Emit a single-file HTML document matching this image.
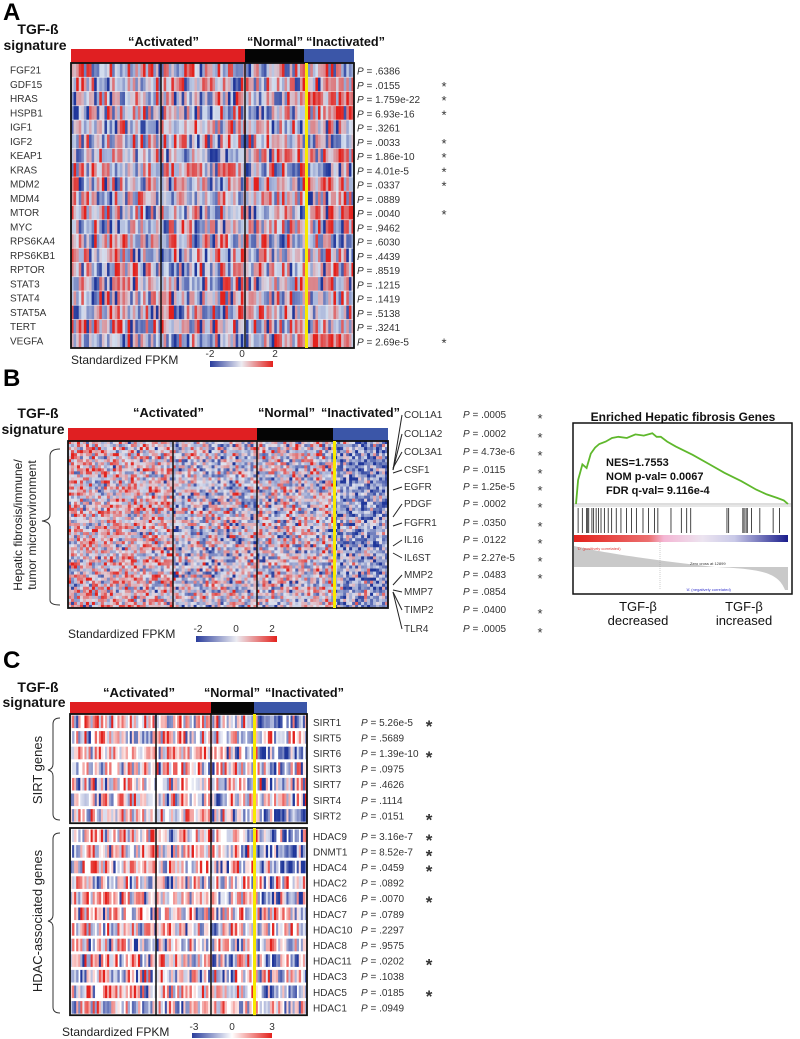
<!DOCTYPE html>
<html><head><meta charset="utf-8">
<style>
html,body{margin:0;padding:0;background:#fff;}
svg{display:block;font-family:"Liberation Sans",Arial,sans-serif;}
.lbl{font-size:10px;fill:#333;}
.pv{font-size:10px;fill:#333;}
.hd{font-size:14px;font-weight:bold;fill:#111;}
.grp{font-size:13px;font-weight:bold;fill:#111;}
.pan{font-size:24px;font-weight:bold;fill:#000;}
</style></head>
<body>
<svg id="fig" width="800" height="1039" viewBox="0 0 800 1039" xmlns="http://www.w3.org/2000/svg">
<defs>
<linearGradient id="cbar" x1="0" x2="1" y1="0" y2="0">
<stop offset="0" stop-color="#2a3d9c"/><stop offset="0.5" stop-color="#ececf2"/><stop offset="1" stop-color="#e3211c"/></linearGradient>
<linearGradient id="cbarc" x1="0" x2="1" y1="0" y2="0">
<stop offset="0" stop-color="#2a3d9c"/><stop offset="0.5" stop-color="#ffffff"/><stop offset="1" stop-color="#e3211c"/></linearGradient>
<linearGradient id="rankbar" x1="0" x2="1" y1="0" y2="0">
<stop offset="0" stop-color="#e3211c"/><stop offset="0.35" stop-color="#ec7070"/><stop offset="0.42" stop-color="#f4b6d4"/><stop offset="0.6" stop-color="#ece4f0"/><stop offset="0.75" stop-color="#c9c9e8"/><stop offset="1" stop-color="#1a1d8c"/></linearGradient>
</defs>

<!-- Panel A -->
<text class="pan" x="3" y="20">A</text>
<text class="hd" x="38" y="34" text-anchor="middle">TGF-ß</text>
<text class="hd" x="35" y="50" text-anchor="middle">signature</text>
<text class="grp" x="128" y="46" textLength="71" lengthAdjust="spacingAndGlyphs">“Activated”</text>
<text class="grp" x="247" y="46" textLength="56" lengthAdjust="spacingAndGlyphs">“Normal”</text>
<text class="grp" x="306" y="46" textLength="79" lengthAdjust="spacingAndGlyphs">“Inactivated”</text>
<g id="A"></g>
<text x="71" y="364" style="font-size:12px;fill:#222">Standardized FPKM</text>
<rect x="210" y="361" width="63" height="6" fill="url(#cbar)"/>
<text x="210" y="357" class="lbl" text-anchor="middle">-2</text>
<text x="242" y="357" class="lbl" text-anchor="middle">0</text>
<text x="275" y="357" class="lbl" text-anchor="middle">2</text>

<!-- Panel B -->
<text class="pan" x="3" y="386">B</text>
<text class="hd" x="38" y="418" text-anchor="middle">TGF-ß</text>
<text class="hd" x="33" y="434" text-anchor="middle">signature</text>
<text class="grp" x="133" y="417" textLength="71" lengthAdjust="spacingAndGlyphs">“Activated”</text>
<text class="grp" x="258" y="417" textLength="57" lengthAdjust="spacingAndGlyphs">“Normal”</text>
<text class="grp" x="321" y="417" textLength="79" lengthAdjust="spacingAndGlyphs">“Inactivated”</text>
<path d="M60 449 Q50 449 50 456 L50 515 Q50 520 42 521 Q50 522 50 527 L50 600 Q50 605 60 605" fill="none" stroke="#333" stroke-width="1"/>
<text transform="translate(22,525) rotate(-90)" text-anchor="middle" style="font-size:12px;fill:#222"><tspan x="0" dy="0">Hepatic fibrosis/immune/</tspan><tspan x="0" dy="14">tumor microenvironment</tspan></text>
<g id="B"></g>
<text x="68" y="638" style="font-size:12px;fill:#222">Standardized FPKM</text>
<rect x="196" y="636" width="81" height="6" fill="url(#cbar)"/>
<text x="198" y="632" class="lbl" text-anchor="middle">-2</text>
<text x="236" y="632" class="lbl" text-anchor="middle">0</text>
<text x="272" y="632" class="lbl" text-anchor="middle">2</text>

<!-- GSEA -->
<text x="683" y="421" text-anchor="middle" style="font-size:12px;font-weight:bold;fill:#111">Enriched Hepatic fibrosis Genes</text>
<rect x="573" y="423" width="219" height="171" fill="#fff" stroke="#111" stroke-width="1.5"/>
<g id="G"></g>
<text x="606" y="466" style="font-size:11px;font-weight:bold;fill:#111">NES=1.7553</text>
<text x="606" y="480" style="font-size:11px;font-weight:bold;fill:#111">NOM p-val= 0.0067</text>
<text x="606" y="494" style="font-size:11px;font-weight:bold;fill:#111">FDR q-val= 9.116e-4</text>
<text x="638" y="611" text-anchor="middle" style="font-size:13px;fill:#111">TGF-β</text>
<text x="638" y="625" text-anchor="middle" style="font-size:13px;fill:#111">decreased</text>
<text x="744" y="611" text-anchor="middle" style="font-size:13px;fill:#111">TGF-β</text>
<text x="744" y="625" text-anchor="middle" style="font-size:13px;fill:#111">increased</text>

<!-- Panel C -->
<text class="pan" x="3" y="668">C</text>
<text class="hd" x="38" y="692" text-anchor="middle">TGF-ß</text>
<text class="hd" x="34" y="707" text-anchor="middle">signature</text>
<text class="grp" x="103" y="697" textLength="72" lengthAdjust="spacingAndGlyphs">“Activated”</text>
<text class="grp" x="204" y="697" textLength="56" lengthAdjust="spacingAndGlyphs">“Normal”</text>
<text class="grp" x="265" y="697" textLength="79" lengthAdjust="spacingAndGlyphs">“Inactivated”</text>
<path d="M60 718 Q53 718 53 724 L53 764 Q53 769 48 770 Q53 771 53 776 L53 814 Q53 820 60 820" fill="none" stroke="#333"/>
<text transform="translate(42,770) rotate(-90)" text-anchor="middle" style="font-size:13px;fill:#222">SIRT genes</text>
<path d="M60 833 Q53 833 53 839 L53 915 Q53 920 48 921 Q53 922 53 927 L53 1007 Q53 1013 60 1013" fill="none" stroke="#333"/>
<text transform="translate(42,921) rotate(-90)" text-anchor="middle" style="font-size:13px;fill:#222">HDAC-associated genes</text>
<g id="C"></g>
<text x="62" y="1036" style="font-size:12px;fill:#222">Standardized FPKM</text>
<rect x="192" y="1033" width="80" height="5" fill="url(#cbarc)"/>
<text x="194" y="1030" class="lbl" text-anchor="middle">-3</text>
<text x="232" y="1030" class="lbl" text-anchor="middle">0</text>
<text x="272" y="1030" class="lbl" text-anchor="middle">3</text>
</svg>

<script>
// ---- data ----
const genesA = ["FGF21","GDF15","HRAS","HSPB1","IGF1","IGF2","KEAP1","KRAS","MDM2","MDM4","MTOR","MYC","RPS6KA4","RPS6KB1","RPTOR","STAT3","STAT4","STAT5A","TERT","VEGFA"];
const pvalsA = [".6386",".0155","1.759e-22","6.93e-16",".3261",".0033","1.86e-10","4.01e-5",".0337",".0889",".0040",".9462",".6030",".4439",".8519",".1215",".1419",".5138",".3241","2.69e-5"];
const sigA = [0,1,1,1,0,1,1,1,1,0,1,0,0,0,0,0,0,0,0,1];
const biasA = [0,0.3,0.9,0.8,0,-0.3,0.4,-0.5,0.3,0,0.4,0,0,0,0,0,0,0,0,0.5];
const genesB = ["COL1A1","COL1A2","COL3A1","CSF1","EGFR","PDGF","FGFR1","IL16","IL6ST","MMP2","MMP7","TIMP2","TLR4"];
const pvalsB = [".0005",".0002","4.73e-6",".0115","1.25e-5",".0002",".0350",".0122","2.27e-5",".0483",".0854",".0400",".0005"];
const sigB = [1,1,1,1,1,1,1,1,1,1,0,1,1];
const genesC = ["SIRT1","SIRT5","SIRT6","SIRT3","SIRT7","SIRT4","SIRT2","HDAC9","DNMT1","HDAC4","HDAC2","HDAC6","HDAC7","HDAC10","HDAC8","HDAC11","HDAC3","HDAC5","HDAC1"];
const pvalsC = ["5.26e-5",".5689","1.39e-10",".0975",".4626",".1114",".0151","3.16e-7","8.52e-7",".0459",".0892",".0070",".0789",".2297",".9575",".0202",".1038",".0185",".0949"];
const sigC = [1,0,1,0,0,0,1,1,1,1,0,1,0,0,0,1,0,1,0];
const esX = [0,0.01,0.03,0.05,0.07,0.09,0.11,0.14,0.17,0.2,0.24,0.28,0.32,0.36,0.38,0.4,0.43,0.47,0.55,0.63,0.7,0.78,0.85,0.9,0.95,0.98,1];
const esY = [0,0.2,0.33,0.3,0.42,0.47,0.5,0.52,0.55,0.56,0.55,0.58,0.57,0.59,0.56,0.56,0.52,0.48,0.41,0.33,0.26,0.19,0.12,0.08,0.05,0.03,0];
const hits = [0.01,0.03,0.05,0.055,0.06,0.075,0.083,0.095,0.106,0.118,0.134,0.152,0.168,0.19,0.212,0.238,0.262,0.285,0.316,0.342,0.37,0.386,0.448,0.497,0.522,0.541,0.712,0.72,0.787,0.793,0.802,0.808,0.828,0.867,0.93,0.96];

// ---- helpers ----
const NS="http://www.w3.org/2000/svg";
let seed=12345;
function rnd(){seed|=0;seed=seed+0x6D2B79F5|0;let t=Math.imul(seed^seed>>>15,1|seed);t=t+Math.imul(t^t>>>7,61|t)^t;return((t^t>>>14)>>>0)/4294967296;}
function gauss(){return (rnd()+rnd()+rnd()-1.5)*1.6;}
function mix(a,b,t){return a.map((v,i)=>Math.round(v+(b[i]-v)*t));}
function color(v,neutral){
  let t=Math.max(-1,Math.min(1,v/2));
  const blue=[31,54,154],red=[227,33,28];
  const c=t<0?mix(neutral,blue,-t):mix(neutral,red,t);
  return "rgb("+c.join(",")+")";
}
function mk(tag,attrs,parent){const e=document.createElementNS(NS,tag);for(const k in attrs)e.setAttribute(k,attrs[k]);parent.appendChild(e);return e;}

function heatmap(g,x0,y0,w,h,nrows,ncols,opts){
  const cw=w/ncols,rh=h/nrows;
  const amp=opts.amp||1;
  const frag=document.createDocumentFragment();
  for(let r=0;r<nrows;r++){
    for(let c=0;c<ncols;c++){
      const xf=(c+0.5)/ncols;
      let v=gauss()*amp+opts.bias(r,xf);
      if(opts.sparse && Math.abs(v)<opts.sparse) continue;
      const el=document.createElementNS(NS,"rect");
      el.setAttribute("x",(x0+c*cw).toFixed(2));
      el.setAttribute("y",(y0+r*rh+(opts.gap||0)).toFixed(2));
      el.setAttribute("width",(cw+0.3).toFixed(2));
      el.setAttribute("height",(rh-2*(opts.gap||0)+(opts.gap?0:0.3)).toFixed(2));
      el.setAttribute("fill",color(v,opts.neutral));
      
      
      frag.appendChild(el);
    }
  }
  g.appendChild(frag);
}
function frame(g,x0,y0,w,h,lines,yellow,name){
  const f=mk("rect",{x:x0,y:y0,width:w,height:h,fill:"none",stroke:"#111","stroke-width":1.8},g);
  
  
  lines.forEach(lx=>{
    const l=mk("line",{x1:lx,x2:lx,y1:y0,y2:y0+h,stroke:"#111","stroke-width":1.5},g);
    
    
  });
  const yl=mk("rect",{x:yellow,y:y0,width:3,height:h,fill:"#f7ea00"},g);
  
  
}
function groupBar(g,y,h,x0,x1,x2,x3,name){
  const a=mk("rect",{x:x0,y:y,width:x1-x0,height:h,fill:"#e01f22"},g);
  
  
  const b=mk("rect",{x:x1,y:y,width:x2-x1,height:h,fill:"#050505"},g);
  
  
  const c=mk("rect",{x:x2,y:y,width:x3-x2,height:h,fill:"#3b56a8"},g);
  
  
}
function text(g,x,y,str,cls,name,anchor){
  const t=mk("text",{x:x,y:y,class:cls},g);
  if(anchor)t.setAttribute("text-anchor",anchor);
  t.textContent=str;
  
  
  return t;
}
function pText(g,x,y,val,name){
  const t=mk("text",{x:x,y:y,class:"pv"},g);
  const i=document.createElementNS(NS,"tspan");i.setAttribute("font-style","italic");i.textContent="P";t.appendChild(i);
  t.appendChild(document.createTextNode(" = "+val));
  
  
}

// ---- Panel A ----
(function(){
  const g=document.getElementById("A");
  const x0=71,x1=245,x2=304,x3=354,y0=63,h=285;
  groupBar(g,49,14,x0,x1,x2,x3,"panel-a");
  heatmap(g,x0,y0,x3-x0,h,genesA.length,110,{neutral:[212,222,238],amp:1.45,bias:(r,xf)=>xf>0.83?biasA[r]*1.6:(xf<0.62?-biasA[r]*0.2:0)});
  for(let r=1;r<genesA.length;r++){
    const l=mk("line",{x1:x0,x2:x3,y1:y0+r*h/genesA.length,y2:y0+r*h/genesA.length,stroke:"#fff","stroke-width":0.8,opacity:0.7},g);
    
    
  }
  frame(g,x0,y0,x3-x0,h,[161,245],305,"heatmap-a");
  genesA.forEach((gn,i)=>{
    const y=y0+(i+0.5)*h/genesA.length+3.5;
    text(g,10,y,gn,"lbl","gene-label-"+gn.toLowerCase());
    pText(g,357,y+1,pvalsA[i],"p-value-"+gn.toLowerCase());
    if(sigA[i]) text(g,444,y+3,"*","pv","significance-star-"+gn.toLowerCase(),"middle").setAttribute("style","font-size:13px");
  });
})();

// ---- Panel B ----
(function(){
  const g=document.getElementById("B");
  const x0=68,x1=257,x2=333,x3=388,y0=441,h=167;
  groupBar(g,428,13,x0,x1,x2,x3,"panel-b");
  heatmap(g,x0,y0,x3-x0,h,55,107,{neutral:[222,226,238],amp:1.15,bias:(r,xf)=>{
    if(xf<0.33)return 0.35; if(xf<0.59)return -0.15; if(xf<0.83)return 0.05; return -0.75;}});
  frame(g,x0,y0,x3-x0,h,[173,257],333,"heatmap-b");
  const ly=[418,437,455,473,490,507,526,543,561,578,595,613,632];
  const sy=[470,470,468,473,490,517,526,546,553,585,590,592,592];
  genesB.forEach((gn,i)=>{
    const l=mk("line",{x1:393,y1:sy[i],x2:402,y2:ly[i]-3,stroke:"#222","stroke-width":1},g);
    
    
    text(g,404,ly[i],gn,"lbl","gene-label-"+gn.toLowerCase());
    pText(g,463,ly[i],pvalsB[i],"p-value-"+gn.toLowerCase());
    if(sigB[i]) text(g,540,ly[i]+5,"*","pv","significance-star-"+gn.toLowerCase(),"middle").setAttribute("style","font-size:13px");
  });
})();

// ---- GSEA ----
(function(){
  const g=document.getElementById("G");
  const gx0=576,gx1=788,base=504,top=432,esMax=0.6;
  const sx=v=>gx0+v*(gx1-gx0), sy=v=>base-v/esMax*(base-top);
  const bl=mk("line",{x1:574,x2:791,y1:base,y2:base,stroke:"#bbb","stroke-width":1},g);
  
  
  let d="";
  esX.forEach((x,i)=>{d+=(i?"L":"M")+sx(x).toFixed(1)+" "+sy(esY[i]).toFixed(1);});
  const p=mk("path",{d:d,fill:"none",stroke:"#5fb82c","stroke-width":1.8},g);
  
  
  const sep=mk("line",{x1:574,x2:791,y1:506,y2:506,stroke:"#999","stroke-width":0.6},g);
  
  
  hits.forEach(hv=>{
    const l=mk("line",{x1:sx(hv),x2:sx(hv),y1:508,y2:533,stroke:"#333","stroke-width":0.9},g);
    
    
  });
  const rb=mk("rect",{x:574,y:535,width:214,height:7,fill:"url(#rankbar)"},g);
  
  
  const zx=715,zy=567;
  const area=mk("path",{d:`M574 546 C600 552 650 560 ${zx} ${zy} L${zx} ${zy} C760 569 778 572 785 590 L788 590 L788 ${zy} L574 ${zy} Z`,fill:"#c9c9c9"},g);
  
  
  const zl=mk("line",{x1:660,x2:660,y1:542,y2:590,stroke:"#999","stroke-width":0.5,"stroke-dasharray":"1,1"},g);
  
  
  const t1=text(g,577,550,"'D' (positively correlated)","pv","positive-correlated-label");t1.setAttribute("style","font-size:4px;fill:#d33");
  const t2=text(g,690,565,"Zero cross at 12899","pv","zero-cross-label");t2.setAttribute("style","font-size:4px;fill:#333");
  const t3=text(g,686,591,"'A' (negatively correlated)","pv","negative-correlated-label");t3.setAttribute("style","font-size:4px;fill:#33c");
})();

// ---- Panel C ----
(function(){
  const g=document.getElementById("C");
  const x0=70,x1=211,x2=254,x3=307;
  groupBar(g,702,12,x0,x1,x2,x3,"panel-c");
  const rh=15.6;
  const blocks=[{y0:714,n:7,off:0,name:"heatmap-sirt"},{y0:828,n:12,off:7,name:"heatmap-hdac"}];
  blocks.forEach(b=>{
    const h=b.n*rh;
    heatmap(g,x0,b.y0,x3-x0,h,b.n,115,{neutral:[255,255,255],gap:1.5,sparse:0.22,amp:1.3,bias:(r,xf)=>{
      const gi=r+b.off; const s=sigC[gi]?1:0;
      if(xf>0.79)return s?-0.9:0; if(xf<0.6)return s?0.4:0; return 0;}});
    frame(g,x0,b.y0,x3-x0,h,[156,211],253,b.name);
    for(let r=0;r<b.n;r++){
      const gi=r+b.off,gn=genesC[gi];
      const y=b.y0+(r+0.5)*rh+4;
      text(g,313,y,gn,"lbl","gene-label-"+gn.toLowerCase());
      pText(g,361,y,pvalsC[gi],"p-value-"+gn.toLowerCase());
      if(sigC[gi]) text(g,429,y+6,"*","pv","significance-star-"+gn.toLowerCase(),"middle").setAttribute("style","font-size:17px;font-weight:bold");
    }
  });
})();
</script>
</body></html>
